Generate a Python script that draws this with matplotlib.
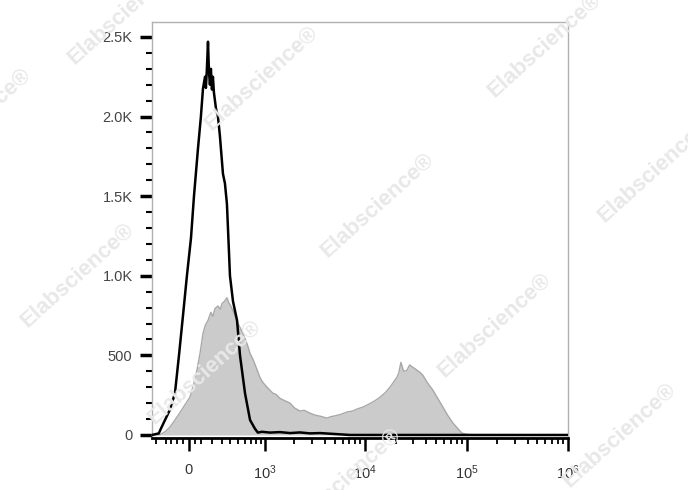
import numpy as np
import matplotlib
matplotlib.use("Agg")
import matplotlib.pyplot as plt
from matplotlib.ticker import FixedLocator, NullFormatter

plt.rcParams['font.family'] = ['Liberation Sans', 'DejaVu Sans']
plt.rcParams['mathtext.fontset'] = 'custom'
plt.rcParams['mathtext.rm'] = 'Liberation Sans'
plt.rcParams['mathtext.it'] = 'Liberation Sans'

# ---- data (channel value, event count) ----
control_x = [-346, -272, -250, -210, -163, -119, -84, -50, -17, 17, 42, 76, 101, 119,
             137, 145, 154, 164, 173, 182, 191, 201, 210, 220, 240, 260, 280, 313, 335,
             358, 382, 394, 432, 486, 528, 605, 690, 780, 839, 927, 1126, 1426, 1804,
             2268, 2852, 3584, 4505, 5657, 7096, 1000000]
control_y = [0, 10, 40, 94, 160, 262, 500, 750, 1000, 1237, 1500, 1800, 2000, 2175,
             2250, 2180, 2300, 2470, 2280, 2200, 2300, 2170, 2250, 2150, 2050, 2000, 1880,
             1640, 1580, 1450, 1150, 1000, 840, 720, 500, 262, 94, 40, 15, 20, 15, 18, 12,
             16, 10, 12, 8, 4, 0, 0]

stained_x = [-346, -260, -210, -163, -119, -76, -33, 8, 40, 67, 95, 119, 140, 164, 190,
             210, 230, 260, 285, 302, 330, 358, 380, 405, 432, 470, 500, 528, 570, 610,
             650, 690, 750, 810, 883, 950, 1050, 1209, 1300, 1426, 1600, 1804, 2000, 2268,
             2500, 2852, 3200, 3600, 4200, 4600, 5045, 5800, 6630, 7500, 8500, 9530, 11000,
             12500, 14022, 15800, 17600, 19000, 20600, 21500, 22570, 24000, 25830, 27500,
             29620, 32000, 34500, 37170, 41000, 46660, 52000, 58540, 65000, 73450, 82000,
             90100, 100000, 115600, 1000000]
stained_y = [0, 2, 20, 50, 94, 140, 190, 237, 320, 406, 520, 637, 690, 719, 770,
             745, 794, 810, 790, 825, 840, 862, 830, 810, 780, 735, 700, 675, 640, 600,
             560, 512, 470, 420, 362, 330, 300, 262, 255, 230, 215, 200, 170, 150,
             155, 137, 125, 118, 106, 115, 120, 130, 144, 150, 165, 175, 195,
             215, 237, 265, 300, 330, 362, 390, 456, 400, 406, 440,
             425, 410, 395, 375, 330, 281, 230, 175, 125, 75, 40,
             12, 5, 0, 0]

x_major = [0, 1e3, 1e4, 1e5, 1e6]
x_major_labels = ['0', r'$10^{3}$', r'$10^{4}$', r'$10^{5}$', r'$10^{6}$']
y_major = [0, 500, 1000, 1500, 2000, 2500]
y_major_labels = ['0', '500', '1.0K', '1.5K', '2.0K', '2.5K']

# ---- biexponential-like scale ----
C = 368.0
LN10 = np.log(10)
def fwd(x):
    return np.arcsinh(np.asarray(x, dtype=float) / C) / LN10
def inv(y):
    return C * np.sinh(np.asarray(y, dtype=float) * LN10)

fig = plt.figure(figsize=(6.88, 4.90), dpi=100)
ax = fig.add_axes([152/688, 1 - 438/490, (568 - 152)/688, (438 - 22)/490])
ax.set_xscale('function', functions=(fwd, inv))

ax.fill_between(stained_x, stained_y, 0, color='#cbcbcb', lw=0, zorder=1)
ax.plot(stained_x, stained_y, color='#a8a8a8', lw=1.0, zorder=2)
ax.plot(control_x, control_y, color='black', lw=1.8, zorder=3)

ax.set_xlim(-346, 1e6)
ax.set_ylim(-19, 2594)

# x ticks
minor_x = [-300, -200, -150, -100, -50, 50]
minor_x += [m * 100 for m in range(1, 10)]
for dec in [1e3, 1e4, 1e5]:
    minor_x += [m * dec for m in range(2, 10)]
ax.xaxis.set_major_locator(FixedLocator(x_major))
ax.set_xticklabels(x_major_labels)
ax.xaxis.set_minor_locator(FixedLocator(minor_x))
ax.xaxis.set_minor_formatter(NullFormatter())
ax.tick_params(axis='x', which='major', length=9, width=1.8, direction='out',
               labelsize=10.5, labelcolor='#333333', pad=9)
ax.tick_params(axis='x', which='minor', length=4.5, width=1.3, direction='out')

# y ticks
ax.yaxis.set_major_locator(FixedLocator(y_major))
ax.set_yticklabels(y_major_labels)
ax.yaxis.set_minor_locator(FixedLocator([v for v in range(100, 2600, 100) if v % 500]))
ax.yaxis.set_minor_formatter(NullFormatter())
ax.tick_params(axis='y', which='major', length=9, width=2.5, direction='out',
               labelsize=10.5, labelcolor='#444444', pad=5)
ax.tick_params(axis='y', which='minor', length=4, width=1.5, direction='out')

for s in ['top', 'right', 'left']:
    ax.spines[s].set_color('#b0b0b0')
    ax.spines[s].set_linewidth(1.0)
ax.spines['bottom'].set_color('black')
ax.spines['bottom'].set_linewidth(2.0)

# watermarks
marks = [(125, 12), (-25, 120), (262, 78), (378, 205), (545, 45), (655, 170),
         (78, 275), (495, 325), (205, 372), (620, 435), (345, 480)]
for (px, py) in marks:
    fig.text(px/688, 1 - py/490, 'Elabscience\u00ae', rotation=42, fontsize=16,
             color='#e8e8e8', ha='center', va='center', zorder=0.5,
             fontweight='bold', family=['Liberation Sans', 'DejaVu Sans'])

fig.savefig('out.png', dpi=100)
